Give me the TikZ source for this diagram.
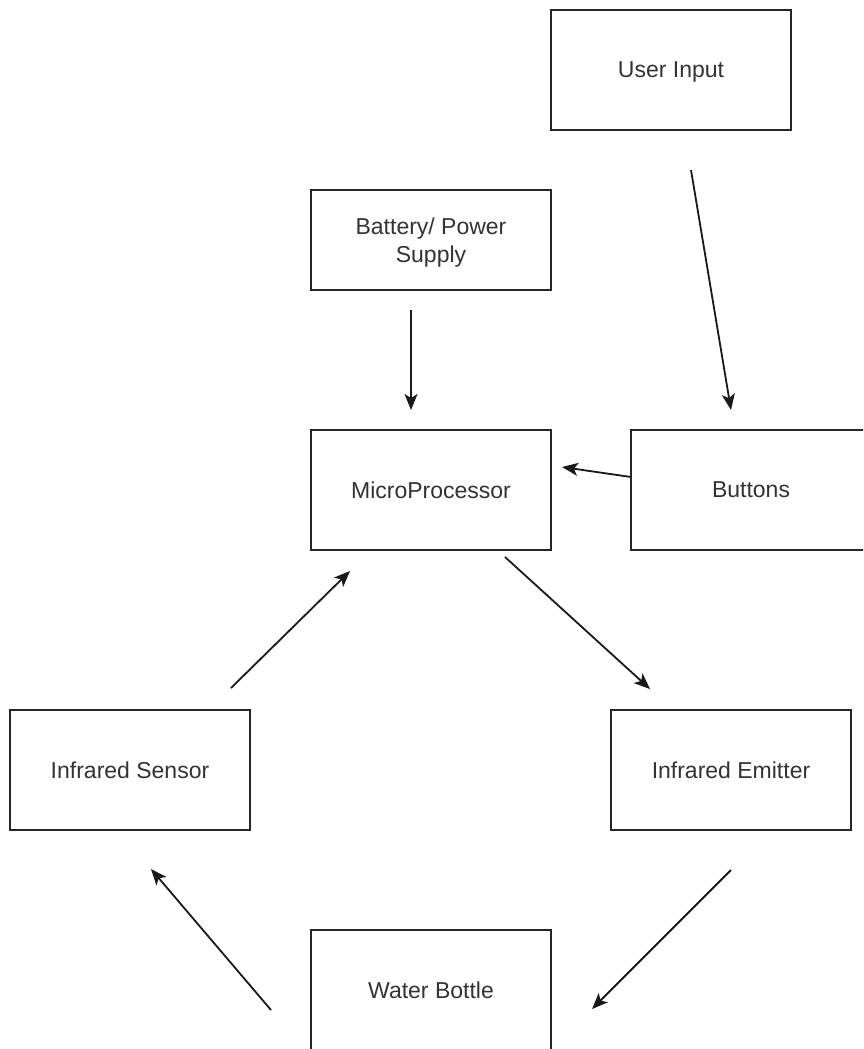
\documentclass[tikz,border=0pt]{standalone}
\usepackage{fontspec}
\setmainfont{Liberation Sans}
\usetikzlibrary{arrows.meta}
\begin{document}
\begin{tikzpicture}[x=1pt,y=-1pt,
  blk/.style={draw=black!85,line width=1.8pt,fill=white,minimum width=240pt,minimum height=120pt,inner sep=0pt,align=center,font=\fontsize{23}{28}\selectfont,text=black!80,text depth=0pt},
  conn/.style={line width=1.8pt,draw=black!90,-{Stealth[length=16pt,width=13pt,inset=4pt]}}]
\useasboundingbox (0,0) rectangle (863,1049);
\clip (0,0) rectangle (863,1049);
\node[blk] (user) at (671,70) {User Input};
\node[blk,minimum height=100pt] (batt) at (431,240) {Battery/ Power\\Supply};
\node[blk] (micro) at (431,490) {MicroProcessor};
\node[blk] (buttons) at (751,490) {Buttons};
\node[blk] (sensor) at (130,770) {Infrared Sensor};
\node[blk] (emitter) at (731,770) {Infrared Emitter};
\node[blk] (water) at (431,990) {Water Bottle};
\coordinate (u1) at (691,170); \coordinate (u2) at (731,410);
\coordinate (b1) at (411,310); \coordinate (b2) at (411,410);
\coordinate (k1) at (631,477); \coordinate (k2) at (562,467);
\coordinate (m1) at (505,557); \coordinate (m2) at (650,689);
\coordinate (s1) at (231,688); \coordinate (s2) at (350,571);
\coordinate (e1) at (731,870); \coordinate (e2) at (592,1009);
\coordinate (w1) at (271,1010); \coordinate (w2) at (151,869);
\draw[conn] (u1) -- (u2);
\draw[conn] (b1) -- (b2);
\draw[conn] (k1) -- (k2);
\draw[conn] (m1) -- (m2);
\draw[conn] (s1) -- (s2);
\draw[conn] (e1) -- (e2);
\draw[conn] (w1) -- (w2);
\end{tikzpicture}
\end{document}
